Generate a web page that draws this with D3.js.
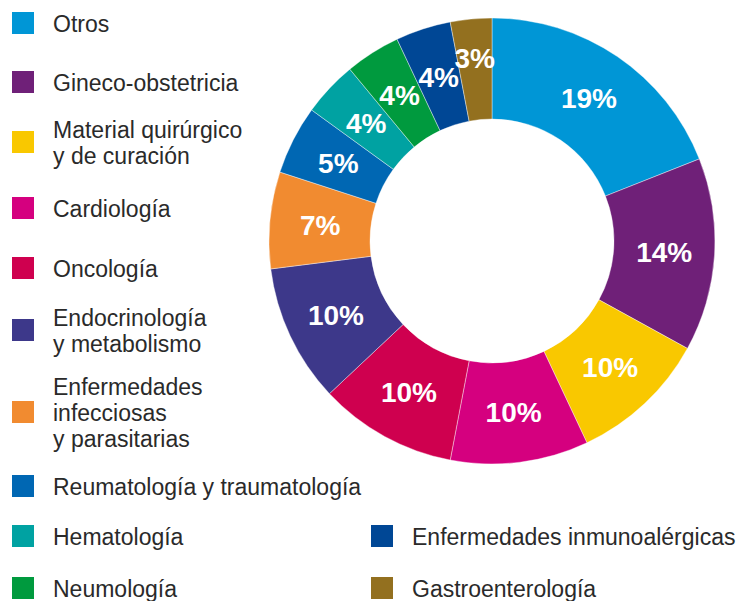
<!DOCTYPE html>
<html>
<head>
<meta charset="utf-8">
<script src="https://cdn.jsdelivr.net/npm/d3@7"></script>
<style>
  html, body { margin: 0; padding: 0; background: #fff; }
  svg { display: block; }
</style>
</head>
<body>
<svg id="chart" width="756" height="601"></svg>
<script>
// Share of spending by therapeutic area (%), clockwise from the top
const categories = [
  "Otros",
  "Gineco-obstetricia",
  "Material quirúrgico\ny de curación",
  "Cardiología",
  "Oncología",
  "Endocrinología\ny metabolismo",
  "Enfermedades\ninfecciosas\ny parasitarias",
  "Reumatología y traumatología",
  "Hematología",
  "Neumología",
  "Enfermedades inmunoalérgicas",
  "Gastroenterología"
];
const values = [19, 14, 10, 10, 10, 10, 7, 5, 4, 4, 4, 3];
const colors = [
  "#0096d6", "#6f2078", "#f9c800", "#d5007f", "#cf004f", "#3d388a",
  "#f18b30", "#0067b3", "#00a2a2", "#009a3e", "#004795", "#93701f"
];

const svg = d3.select("#chart");

// ---- Donut ----
const cx = 492, cy = 241, rOuter = 223, rInner = 122;

const pie = d3.pie().sort(null).value(d => d.value);
const arcs = pie(values.map((v, i) => ({ name: categories[i], value: v, color: colors[i] })));

const arc = d3.arc().innerRadius(rInner).outerRadius(rOuter);

const g = svg.append("g").attr("transform", `translate(${cx},${cy})`);

g.selectAll("path.slice")
  .data(arcs)
  .join("path")
  .attr("class", "slice")
  .attr("d", arc)
  .attr("fill", d => d.data.color)
  .attr("stroke", "#ffffff")
  .attr("stroke-width", 0.4);

// Percent labels at the slice centroids; the narrowest slice gets its label pushed outward
const narrowArc = d3.arc().innerRadius(184).outerRadius(184);
g.selectAll("text.pct")
  .data(arcs)
  .join("text")
  .attr("class", "pct")
  .attr("transform", d => {
    const [x, y] = d.data.value < 3.5 ? narrowArc.centroid(d) : arc.centroid(d);
    return `translate(${x},${y})`;
  })
  .attr("text-anchor", "middle")
  .attr("dy", "0.36em")
  .attr("fill", "#ffffff")
  .attr("font-family", "'Liberation Sans', Arial, sans-serif")
  .attr("font-weight", "bold")
  .attr("font-size", 28)
  .text(d => d.data.value + "%");

// ---- Legend ----
// baseline of each entry's first line; the last two entries sit in a second column
const legendLayout = [
  { x: 12, y: 32 }, { x: 12, y: 91 }, { x: 12, y: 138 }, { x: 12, y: 217 },
  { x: 12, y: 277 }, { x: 12, y: 326 }, { x: 12, y: 395 }, { x: 12, y: 495 },
  { x: 12, y: 545 }, { x: 12, y: 597 }, { x: 371, y: 545 }, { x: 371, y: 597 }
];
const lineH = 26, sq = 22, textGap = 41;

const legend = svg.append("g").attr("class", "legend");
arcs.forEach((d, i) => {
  const pos = legendLayout[i];
  const lines = d.data.name.split("\n");
  const centerY = pos.y - 9 + (lines.length - 1) * lineH / 2;
  legend.append("rect")
    .attr("x", pos.x)
    .attr("y", centerY - sq / 2)
    .attr("width", sq)
    .attr("height", sq)
    .attr("fill", d.data.color);
  const t = legend.append("text")
    .attr("x", pos.x + textGap)
    .attr("y", pos.y)
    .attr("fill", "#2a2a2a")
    .attr("font-family", "'Liberation Sans', Arial, sans-serif")
    .attr("font-size", 23);
  lines.forEach((ln, k) => {
    t.append("tspan")
      .attr("x", pos.x + textGap)
      .attr("y", pos.y + k * lineH)
      .text(ln);
  });
});
</script>
</body>
</html>
